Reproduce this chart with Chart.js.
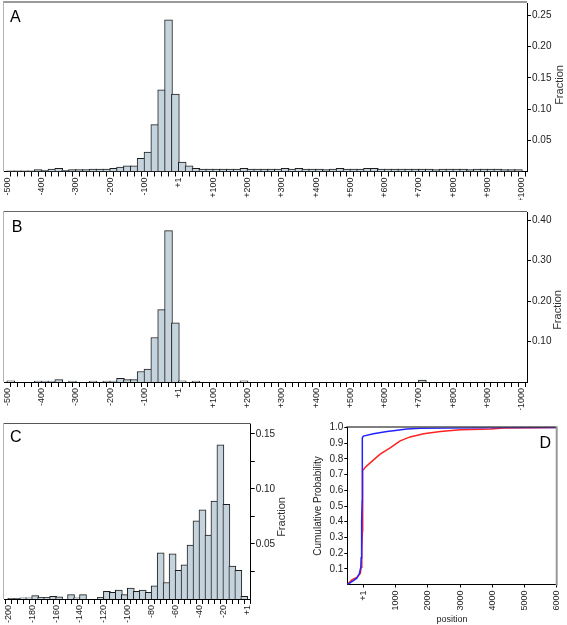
<!DOCTYPE html>
<html>
<head>
<meta charset="utf-8">
<script src="https://cdn.jsdelivr.net/npm/chart.js@4.4.1/dist/chart.umd.min.js"></script>
<style>
  html, body { margin: 0; padding: 0; background: #fff; }
  #page { position: relative; width: 567px; height: 625px; overflow: hidden; }
  canvas { position: absolute; }
</style>
</head>
<body>
<div id="page">
  <canvas id="chartA" width="567" height="200" style="left:0;top:0"></canvas>
  <canvas id="chartB" width="567" height="210" style="left:0;top:200px"></canvas>
  <canvas id="chartC" width="290" height="215" style="left:0;top:410px"></canvas>
  <canvas id="chartD" width="277" height="215" style="left:290px;top:410px"></canvas>
</div>
<script>
"use strict";

// Histograms A and B: 20 bp bins from -500 to +1000
var binStartAB = -500;
var binWidthAB = 20;
var fractionA = [
    0.001, 0.001, 0.001, 0.001, 0.003, 0.002, 0.004, 0.005, 0.002, 0.003,
    0.003, 0.003, 0.004, 0.004, 0.004, 0.005, 0.007, 0.009, 0.009, 0.021,
    0.031, 0.075, 0.131, 0.243, 0.124, 0.015, 0.009, 0.005, 0.004, 0.004,
    0.004, 0.004, 0.004, 0.004, 0.005, 0.004, 0.004, 0.004, 0.004, 0.004,
    0.005, 0.004, 0.005, 0.004, 0.004, 0.004, 0.003, 0.004, 0.005, 0.004,
    0.004, 0.004, 0.005, 0.005, 0.004, 0.004, 0.004, 0.004, 0.004, 0.004,
    0.004, 0.004, 0.003, 0.004, 0.004, 0.004, 0.004, 0.003, 0.004, 0.004,
    0.004, 0.004, 0.003, 0.003, 0.003
];
var fractionB = [
    0.003, 0, 0, 0, 0.0025, 0.0025, 0.0025, 0.006, 0, 0.0025,
    0, 0, 0.0025, 0, 0.0025, 0.0025, 0.009, 0.006, 0.006, 0.026,
    0.032, 0.110, 0.179, 0.374, 0.146, 0.003, 0, 0.0025, 0, 0,
    0, 0, 0, 0, 0.003, 0, 0, 0, 0, 0,
    0, 0, 0, 0, 0, 0, 0, 0, 0, 0,
    0, 0, 0, 0, 0, 0, 0, 0, 0, 0,
    0.005, 0, 0, 0, 0, 0, 0, 0, 0, 0,
    0, 0, 0, 0, 0
];
var positionLabelsAB = [-500, -400, -300, -200, -100, 0, 100, 200, 300, 400, 500, 600, 700, 800, 900, 1000];
var fractionTicksA = [0.05, 0.10, 0.15, 0.20, 0.25];
var fractionTicksB = [0.10, 0.20, 0.30, 0.40];

// Histogram C: 5 bp bins from -200 to +1
var binStartC = -200;
var binWidthC = 5;
var fractionC = [
    0.0005, 0.0005, 0.001, 0.001, 0.003, 0.0015, 0.0015, 0.0025, 0.002, 0,
    0.004, 0.001, 0.004, 0, 0, 0.0015, 0.007, 0.006, 0.008, 0.004,
    0.010, 0.007, 0.008, 0.006, 0.012, 0.042, 0.015, 0.041, 0.026, 0.031,
    0.049, 0.071, 0.081, 0.058, 0.089, 0.140, 0.086, 0.030, 0.026, 0.0025
];
var positionLabelsC = [-200, -180, -160, -140, -120, -100, -80, -60, -40, -20, 0];
var fractionTicksC = [0.025, 0.05, 0.075, 0.10, 0.125, 0.15];
var fractionLabelsC = [0.05, 0.10, 0.15];

// Cumulative curves D
var positionBlue = [-500, -415, -310, -205, -125, -80, -70, -60, -50, -40, -37, -35, -30, 0, 310, 730, 930, 1350, 1770, 4250, 6000];
var cumBlue = [0, 0.01, 0.025, 0.04, 0.07, 0.11, 0.17, 0.27, 0.40, 0.53, 0.70, 0.88, 0.935, 0.945, 0.96, 0.975, 0.98, 0.99, 0.995, 1.0, 1.0];
var positionRed = [-500, -360, -205, -95, -70, -50, -30, -25, -20, 50, 210, 520, 830, 1140, 1450, 1870, 2390, 3010, 3950, 4350, 6000];
var cumRed = [0, 0.03, 0.045, 0.07, 0.11, 0.22, 0.34, 0.53, 0.725, 0.745, 0.775, 0.83, 0.87, 0.915, 0.94, 0.96, 0.975, 0.985, 0.99, 0.997, 1.0];
var positionTicksD = [0, 1000, 2000, 3000, 4000, 5000, 6000];
var probTicksD = [0.1, 0.2, 0.3, 0.4, 0.5, 0.6, 0.7, 0.8, 0.9, 1.0];

Chart.defaults.font.family = "'Liberation Sans', Arial, sans-serif";
Chart.defaults.color = '#222';

var barFill = '#c5d3dd';
var barEdge = '#1e1e1e';

function positionLabel(v) {
    if (v === 0) return '+1';
    return v > 0 ? '+' + v : String(v);
}

// Draws the light frame lines, panel letter and the "Fraction" title
var framePlugin = {
    id: 'frame',
    afterDraw: function (chart, args, opts) {
        var ctx = chart.ctx, a = chart.chartArea;
        ctx.save();
        (opts.lines || []).forEach(function (ln) {
            ctx.strokeStyle = ln.color;
            ctx.lineWidth = ln.width;
            ctx.beginPath();
            if (ln.side === 'top') {
                ctx.moveTo(a.left - 1, a.top - ln.width / 2);
                ctx.lineTo(a.right, a.top - ln.width / 2);
            } else if (ln.side === 'left') {
                ctx.moveTo(a.left - ln.width / 2, a.top - 1);
                ctx.lineTo(a.left - ln.width / 2, a.bottom);
            } else if (ln.side === 'right') {
                ctx.moveTo(a.right + ln.width / 2 - 1, a.top - 1);
                ctx.lineTo(a.right + ln.width / 2 - 1, a.bottom + 1);
            }
            ctx.stroke();
        });
        if (opts.letter) {
            ctx.fillStyle = '#000';
            ctx.font = "16px 'Liberation Sans', Arial, sans-serif";
            ctx.textAlign = 'left';
            ctx.textBaseline = 'alphabetic';
            ctx.fillText(opts.letter.text, opts.letter.x, opts.letter.y);
        }
        if (opts.yTitle) {
            ctx.translate(opts.yTitle.x, opts.yTitle.y);
            ctx.rotate(-Math.PI / 2);
            ctx.fillStyle = '#333';
            ctx.font = "11px 'Liberation Sans', Arial, sans-serif";
            ctx.textAlign = 'center';
            ctx.textBaseline = 'middle';
            ctx.fillText(opts.yTitle.text, 0, 0);
        }
        ctx.restore();
    }
};

function histogramChart(id, values, start, width, cfg) {
    var points = values.map(function (v, i) {
        return { x: start + width * (i + 0.5), y: v };
    });
    var edgeTicks = [];
    for (var i = 0; i <= values.length; i++) edgeTicks.push(start + width * i);

    return new Chart(document.getElementById(id), {
        type: 'bar',
        data: {
            datasets: [{
                data: points,
                backgroundColor: barFill,
                borderColor: barEdge,
                borderWidth: 1,
                borderSkipped: 'start',
                barThickness: cfg.barPx
            }]
        },
        options: {
            responsive: false,
            animation: false,
            layout: { padding: cfg.padding },
            plugins: {
                legend: { display: false },
                tooltip: { enabled: false },
                frame: cfg.frame
            },
            scales: {
                x: {
                    type: 'linear',
                    min: cfg.xMin,
                    max: cfg.xMax,
                    offset: false,
                    afterBuildTicks: function (s) {
                        s.ticks = edgeTicks.map(function (v) { return { value: v }; });
                    },
                    afterFit: function (s) {
                        s.height = cfg.xAxisHeight;
                        s.paddingLeft = 0;
                        s.paddingRight = 0;
                    },
                    ticks: {
                        autoSkip: false,
                        minRotation: 90,
                        maxRotation: 90,
                        padding: 1,
                        font: { size: 9 },
                        callback: function (v) {
                            return cfg.xLabels.indexOf(v) >= 0 ? positionLabel(v) : '';
                        }
                    },
                    grid: { drawOnChartArea: false, drawTicks: true, tickLength: 5, color: '#000' },
                    border: { display: true, color: '#000', width: 1 }
                },
                y: {
                    position: 'right',
                    min: 0,
                    max: cfg.yMax,
                    afterBuildTicks: function (s) {
                        s.ticks = cfg.yTicks.map(function (v) { return { value: v }; });
                    },
                    afterFit: function (s) {
                        s.width = cfg.yAxisWidth;
                        s.paddingTop = 0;
                        s.paddingBottom = 0;
                    },
                    ticks: {
                        padding: 1,
                        font: { size: 10 },
                        callback: function (v) {
                            return cfg.yLabels.indexOf(v) >= 0 ? v.toFixed(2) : '';
                        }
                    },
                    grid: { drawOnChartArea: false, drawTicks: true, tickLength: 4, color: '#000' },
                    border: { display: true, color: '#000', width: 1 }
                }
            }
        },
        plugins: [framePlugin]
    });
}

histogramChart('chartA', fractionA, binStartAB, binWidthAB, {
    xMin: -509.6, xMax: 1015, yMax: 0.270, barPx: 7.9,
    padding: { left: 4, top: 3, right: 0, bottom: 0 },
    xAxisHeight: 28.5, yAxisWidth: 40,
    xLabels: positionLabelsAB, yTicks: fractionTicksA, yLabels: fractionTicksA,
    frame: {
        lines: [{ side: 'top', color: '#9a9a9a', width: 2 }, { side: 'left', color: '#b4b4b4', width: 1 }],
        letter: { text: 'A', x: 10, y: 21.7 },
        yTitle: { text: 'Fraction', x: 560, y: 85 }
    }
});

histogramChart('chartB', fractionB, binStartAB, binWidthAB, {
    xMin: -509.6, xMax: 1015, yMax: 0.420, barPx: 7.9,
    padding: { left: 4, top: 12, right: 0, bottom: 0 },
    xAxisHeight: 28, yAxisWidth: 40,
    xLabels: positionLabelsAB, yTicks: fractionTicksB, yLabels: fractionTicksB,
    frame: {
        lines: [{ side: 'top', color: '#666', width: 1 }, { side: 'left', color: '#b4b4b4', width: 1 }],
        letter: { text: 'B', x: 11.7, y: 32.3 },
        yTitle: { text: 'Fraction', x: 558, y: 110 }
    }
});

histogramChart('chartC', fractionC, binStartC, binWidthC, {
    xMin: -203.6, xMax: 2.85, yMax: 0.159, barPx: 7,
    padding: { left: 4, top: 14, right: 0, bottom: 0 },
    xAxisHeight: 26, yAxisWidth: 39.3,
    xLabels: positionLabelsC, yTicks: fractionTicksC, yLabels: fractionLabelsC,
    frame: {
        lines: [{ side: 'top', color: '#555', width: 1 }, { side: 'left', color: '#b4b4b4', width: 1 }],
        letter: { text: 'C', x: 10, y: 31.7 },
        yTitle: { text: 'Fraction', x: 281.7, y: 107 }
    }
});

function zip(xs, ys) {
    return xs.map(function (x, i) { return { x: x, y: ys[i] }; });
}

new Chart(document.getElementById('chartD'), {
    type: 'scatter',
    data: {
        datasets: [
            { data: zip(positionBlue, cumBlue), showLine: true, borderColor: '#2222ff', borderWidth: 1.5, pointRadius: 0, tension: 0 },
            { data: zip(positionRed, cumRed), showLine: true, borderColor: '#ff2222', borderWidth: 1.5, pointRadius: 0, tension: 0 }
        ]
    },
    options: {
        responsive: false,
        animation: false,
        layout: { padding: { left: 0, top: 17.5, right: 10.3, bottom: 0 } },
        plugins: {
            legend: { display: false },
            tooltip: { enabled: false },
            frame: {
                lines: [{ side: 'top', color: '#000', width: 1 }, { side: 'right', color: '#999', width: 2 }],
                letter: { text: 'D', x: 249.5, y: 37.5 }
            }
        },
        scales: {
            x: {
                type: 'linear',
                min: -500,
                max: 6000,
                afterBuildTicks: function (s) {
                    s.ticks = positionTicksD.map(function (v) { return { value: v }; });
                },
                afterFit: function (s) {
                    s.height = 40.5;
                    s.paddingLeft = 0;
                    s.paddingRight = 0;
                },
                ticks: {
                    autoSkip: false,
                    minRotation: 90,
                    maxRotation: 90,
                    padding: 3,
                    font: { size: 9 },
                    callback: function (v) { return v === 0 ? '+1' : String(v); }
                },
                title: { display: true, text: 'position', font: { size: 9 }, padding: { top: 0, bottom: 0 } },
                grid: { drawOnChartArea: false, drawTicks: true, tickLength: 3, color: '#000' },
                border: { display: true, color: '#000', width: 1 }
            },
            y: {
                min: 0,
                max: 1,
                afterBuildTicks: function (s) {
                    s.ticks = probTicksD.map(function (v) { return { value: v }; });
                },
                afterFit: function (s) {
                    s.width = 57.3;
                    s.paddingTop = 0;
                    s.paddingBottom = 0;
                },
                ticks: {
                    padding: 1,
                    font: { size: 10 },
                    callback: function (v) { return v.toFixed(1); }
                },
                title: { display: true, text: 'Cumulative Probability', font: { size: 10 }, padding: { top: 22, bottom: 0 } },
                grid: { drawOnChartArea: false, drawTicks: true, tickLength: 3, color: '#000' },
                border: { display: true, color: '#000', width: 1 }
            }
        }
    },
    plugins: [framePlugin]
});
</script>
</body>
</html>
